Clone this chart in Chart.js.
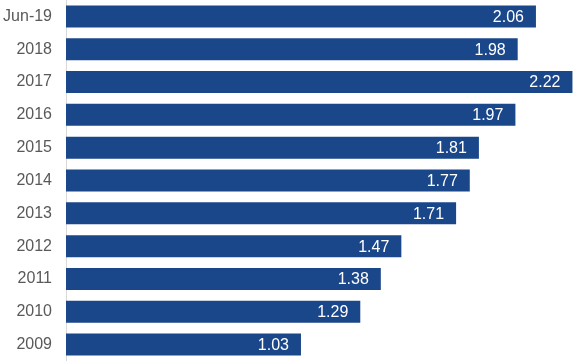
<!DOCTYPE html>
<html>
<head>
<meta charset="utf-8">
<script src="https://cdn.jsdelivr.net/npm/chart.js@4/dist/chart.umd.min.js"></script>
<style>
  html, body { margin: 0; padding: 0; background: #fff; }
  #wrap { width: 577px; height: 361px; position: relative; }
</style>
</head>
<body>
<div id="wrap"><canvas id="c"></canvas></div>
<script>
const years = ['Jun-19', '2018', '2017', '2016', '2015', '2014', '2013', '2012', '2011', '2010', '2009'];
const values = [2.06, 1.98, 2.22, 1.97, 1.81, 1.77, 1.71, 1.47, 1.38, 1.29, 1.03];

const FONT = '"Liberation Sans", Arial, sans-serif';

// white value text at the end of each bar
const barLabels = {
  id: 'barLabels',
  afterDatasetsDraw(chart) {
    const ctx = chart.ctx;
    const meta = chart.getDatasetMeta(0);
    ctx.save();
    ctx.fillStyle = '#ffffff';
    ctx.font = '16px ' + FONT;
    ctx.textAlign = 'right';
    ctx.textBaseline = 'middle';
    meta.data.forEach((bar, i) => {
      ctx.fillText(values[i].toFixed(2), bar.x - 12, bar.y + 1);
    });
    ctx.restore();
  },
};

new Chart(document.getElementById('c'), {
  type: 'bar',
  data: {
    labels: years,
    datasets: [{
      data: values,
      backgroundColor: '#1a468a',
      categoryPercentage: 1,
      barPercentage: 0.67,
    }],
  },
  options: {
    indexAxis: 'y',
    responsive: true,
    maintainAspectRatio: false,
    animation: false,
    layout: { padding: 0 },
    plugins: { legend: { display: false }, tooltip: { enabled: false } },
    scales: {
      x: {
        display: false,
        min: 0,
        max: 2.24,
      },
      y: {
        afterFit: (s) => {
          s.width = 66;
          s.paddingTop = 0;
          s.paddingBottom = 0;
        },
        grid: { display: false, drawTicks: false },
        border: { display: true, color: '#d9d9d9', width: 1 },
        ticks: {
          color: '#595959',
          padding: 14,
          font: { family: FONT, size: 16 },
        },
      },
    },
  },
  plugins: [barLabels],
});
</script>
</body>
</html>
